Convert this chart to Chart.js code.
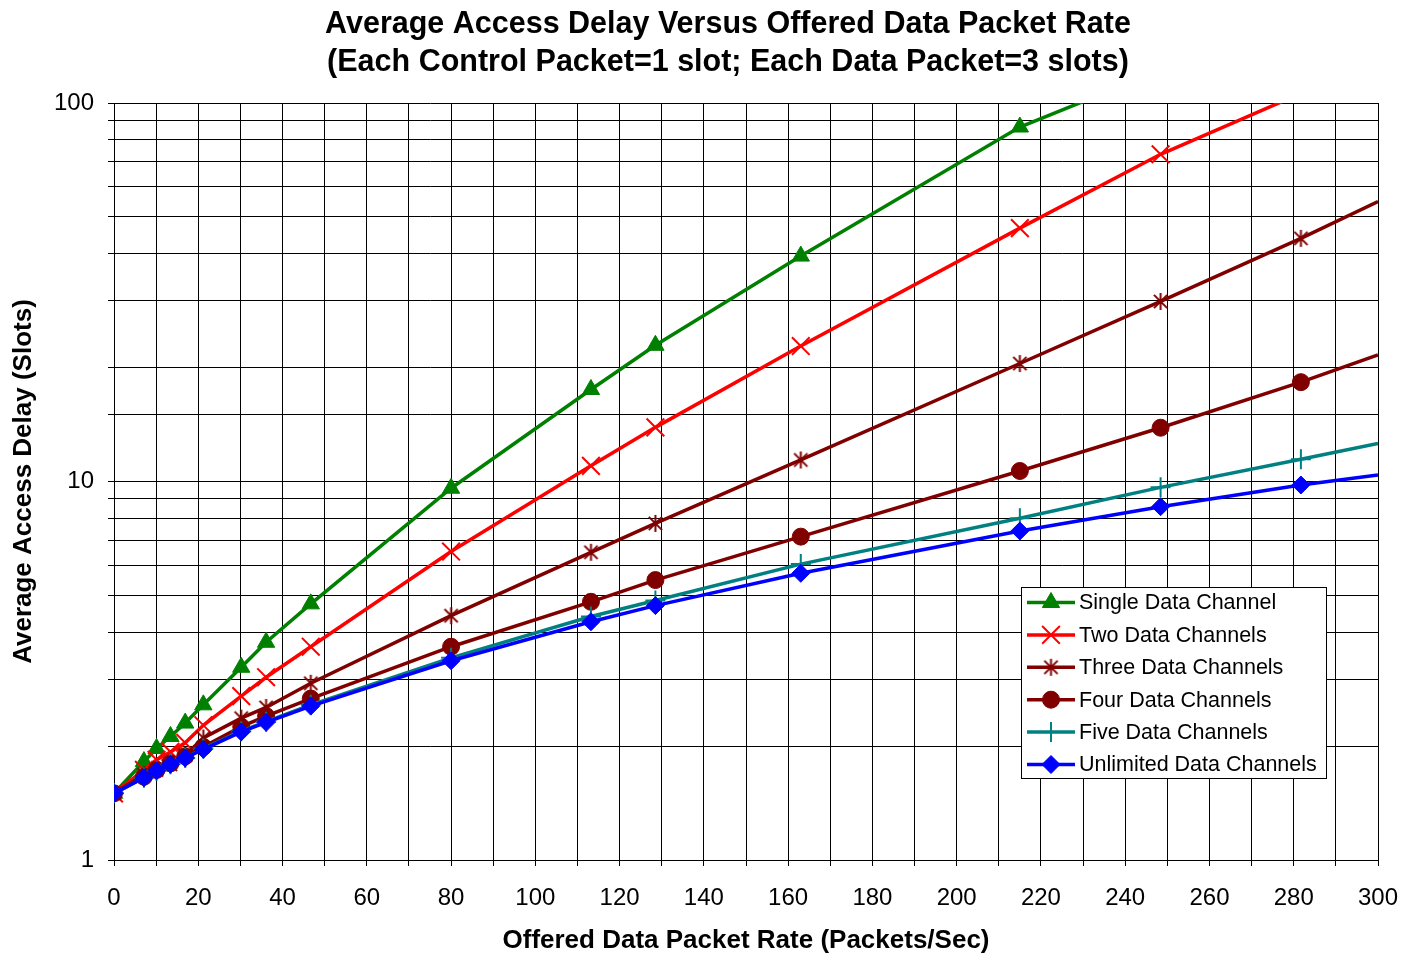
<!DOCTYPE html>
<html>
<head>
<meta charset="utf-8">
<title>Average Access Delay Versus Offered Data Packet Rate</title>
<script src="https://cdn.jsdelivr.net/npm/chart.js@4/dist/chart.umd.min.js"></script>
<style>
  html, body { margin: 0; padding: 0; background: #ffffff; }
  canvas { display: block; }
</style>
</head>
<body>
<canvas id="delayChart" width="1403" height="956"></canvas>
<script>
// Offered data packet rate (packets/sec) at each simulated point; 300 is the right edge of the axis
const rates = [0, 7.1, 10.1, 13.4, 16.9, 21.2, 30.2, 36.1, 46.7, 80, 113.2, 128.5, 163, 215, 248.4, 281.7, 300];

// Average access delay (slots) per configuration
const singleChannel    = [1.5, 1.82, 1.97, 2.12, 2.30, 2.57, 3.23, 3.76, 4.75, 9.6, 17.5, 22.9, 39.4, 86.4, 122];
const twoChannels      = [1.5, 1.73, 1.84, 1.93, 2.04, 2.27, 2.71, 3.04, 3.66, 6.53, 11.0, 13.9, 22.8, 46.7, 73.2, 106];
const threeChannels    = [1.5, 1.68, 1.73, 1.79, 1.89, 2.10, 2.37, 2.53, 2.93, 4.42, 6.5, 7.75, 11.4, 20.5, 29.9, 43.9, 54.9];
const fourChannels     = [1.5, 1.66, 1.73, 1.80, 1.88, 1.99, 2.25, 2.40, 2.67, 3.66, 4.81, 5.49, 7.15, 10.66, 13.87, 18.3, 21.6];
const fiveChannels     = [1.5, 1.65, 1.72, 1.79, 1.86, 1.97, 2.19, 2.32, 2.57, 3.42, 4.40, 4.85, 6.05, 8.0, 9.65, 11.45, 12.6];
const unlimitedChannels = [1.5, 1.65, 1.72, 1.79, 1.86, 1.96, 2.18, 2.31, 2.55, 3.36, 4.26, 4.70, 5.72, 7.40, 8.58, 9.79, 10.4];

const seriesLabels = [
  'Single Data Channel',
  'Two Data Channels',
  'Three Data Channels',
  'Four Data Channels',
  'Five Data Channels',
  'Unlimited Data Channels'
];

const titleLines = [
  'Average Access Delay Versus Offered Data Packet Rate',
  '(Each Control Packet=1 slot; Each Data Packet=3 slots)'
];
const xAxisTitle = 'Offered Data Packet Rate (Packets/Sec)';
const yAxisTitle = 'Average Access Delay (Slots)';
const yLabelledTicks = [1, 10, 100];
const xLabelEvery = 20;

const FONT = '"Liberation Sans", Arial, Helvetica, sans-serif';

// Asterisk marker: an X crossed by a vertical bar
function asteriskMarker(color, size) {
  const c = document.createElement('canvas');
  c.width = size; c.height = size;
  const g = c.getContext('2d');
  g.strokeStyle = color;
  g.lineWidth = 2;
  const m = size / 2, r = size / 2 - 1, d = r * 0.78;
  g.beginPath();
  g.moveTo(m, m - r); g.lineTo(m, m + r);
  g.moveTo(m - d, m - d); g.lineTo(m + d, m + d);
  g.moveTo(m + d, m - d); g.lineTo(m - d, m + d);
  g.stroke();
  return c;
}

const seriesValues = [singleChannel, twoChannels, threeChannels, fourChannels, fiveChannels, unlimitedChannels];
const seriesColors = ['#008000', '#ff0000', '#800000', '#800000', '#008080', '#0000ff'];
const seriesMarkers = [
  { style: 'triangle', radius: 10, border: 1 },
  { style: 'crossRot', radius: 12.5, border: 2 },
  { style: asteriskMarker('#800000', 19), radius: 9.5, border: 1 },
  { style: 'circle', radius: 8.5, border: 1 },
  { style: 'cross', radius: 10, border: 2 },
  { style: 'rectRot', radius: 9, border: 1 }
];

const datasets = seriesValues.map((vals, i) => ({
  label: seriesLabels[i],
  data: vals.map((v, k) => ({ x: rates[k], y: v })),
  borderColor: seriesColors[i],
  backgroundColor: seriesColors[i],
  pointBackgroundColor: seriesColors[i],
  pointBorderColor: seriesColors[i],
  pointStyle: seriesMarkers[i].style,
  pointBorderWidth: seriesMarkers[i].border,
  pointRadius: ctx => (ctx.raw && ctx.raw.x >= 300) ? 0 : seriesMarkers[i].radius,
  pointHoverRadius: ctx => (ctx.raw && ctx.raw.x >= 300) ? 0 : seriesMarkers[i].radius,
  borderWidth: 3.5,
  tension: 0,
  fill: false,
  order: seriesValues.length - 1 - i
}));

// Two-line heading
const headingPlugin = {
  id: 'heading',
  afterDraw(chart) {
    const ctx = chart.ctx;
    ctx.save();
    ctx.fillStyle = '#000';
    ctx.font = 'bold 30.5px ' + FONT;
    ctx.textAlign = 'center';
    ctx.textBaseline = 'middle';
    titleLines.forEach((t, i) => ctx.fillText(t, 728, 25 + i * 38));
    ctx.restore();
  }
};

function drawMarker(ctx, marker, color, x, y) {
  ctx.fillStyle = color;
  ctx.strokeStyle = color;
  ctx.lineWidth = marker.border;
  if (Chart.helpers && Chart.helpers.drawPoint) {
    Chart.helpers.drawPoint(ctx, { pointStyle: marker.style, radius: marker.radius, rotation: 0, borderWidth: marker.border }, x, y);
  }
}

// Boxed legend inside the plot area
const boxedLegendPlugin = {
  id: 'boxedLegend',
  afterDraw(chart) {
    const ctx = chart.ctx;
    const box = { x: 1021.5, y: 587.5, w: 305, h: 191 };
    const rowGap = 32.4, firstRow = 602.5;
    ctx.save();
    ctx.fillStyle = '#ffffff';
    ctx.fillRect(box.x, box.y, box.w, box.h);
    ctx.strokeStyle = '#000';
    ctx.lineWidth = 1;
    ctx.strokeRect(box.x, box.y, box.w, box.h);
    chart.data.datasets.forEach((ds, i) => {
      const y = firstRow + i * rowGap;
      ctx.strokeStyle = ds.borderColor;
      ctx.lineWidth = 3.5;
      ctx.beginPath();
      ctx.moveTo(1027, y);
      ctx.lineTo(1075, y);
      ctx.stroke();
      drawMarker(ctx, seriesMarkers[i], ds.borderColor, 1051, y);
      ctx.fillStyle = '#000';
      ctx.font = '21.5px ' + FONT;
      ctx.textAlign = 'left';
      ctx.textBaseline = 'middle';
      ctx.fillText(ds.label, 1079, y + 1);
    });
    ctx.restore();
  }
};

new Chart(document.getElementById('delayChart'), {
  type: 'line',
  data: { datasets },
  plugins: [headingPlugin, boxedLegendPlugin],
  options: {
    responsive: false,
    animation: false,
    events: [],
    layout: { padding: { left: 6, right: 25, top: 103, bottom: 0 } },
    plugins: {
      legend: { display: false },
      title: { display: false },
      tooltip: { enabled: false }
    },
    scales: {
      x: {
        type: 'linear',
        min: 0,
        max: 300,
        afterFit(scale) {
          scale.height = 96;
          scale.paddingLeft = 0;
          scale.paddingRight = 0;
        },
        ticks: {
          stepSize: 10,
          autoSkip: false,
          maxRotation: 0,
          padding: 18,
          color: '#000',
          font: { family: FONT, size: 24 },
          callback: v => (v % xLabelEvery === 0 ? String(v) : '')
        },
        grid: { color: '#000', lineWidth: 1, tickLength: 6 },
        border: { color: '#000', width: 1 },
        title: {
          display: true,
          text: xAxisTitle,
          color: '#000',
          font: { family: FONT, size: 26, weight: 'bold' },
          padding: { top: 0, bottom: 0 }
        }
      },
      y: {
        type: 'logarithmic',
        min: 1,
        max: 100,
        afterFit(scale) { scale.width = 108; },
        ticks: {
          autoSkip: false,
          padding: 14,
          color: '#000',
          font: { family: FONT, size: 24 },
          callback: v => (yLabelledTicks.includes(v) ? String(v) : '')
        },
        grid: { color: '#000', lineWidth: 1, tickLength: 6 },
        border: { color: '#000', width: 1 },
        title: {
          display: true,
          text: yAxisTitle,
          color: '#000',
          font: { family: FONT, size: 26, weight: 'bold' },
          padding: { top: 2, bottom: 0 }
        }
      }
    }
  }
});
</script>
</body>
</html>
